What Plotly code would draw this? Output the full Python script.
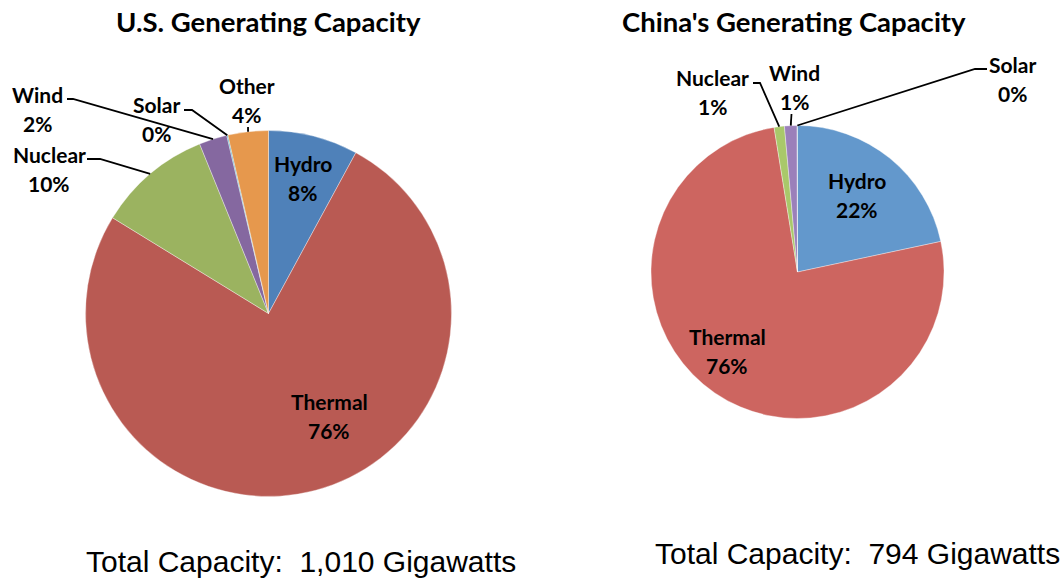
import math
import plotly.graph_objects as go

W, H = 1062, 581

# ---------------- data ----------------
us_categories = ["Hydro", "Thermal", "Nuclear", "Wind", "Solar", "Other"]
us_values = [80, 766, 102, 25, 1, 36]          # GW (approx.)
cn_categories = ["Hydro", "Thermal", "Nuclear", "Wind", "Solar"]
cn_values = [172, 602, 9, 11, 0.3]             # GW (approx.)

us_title = "U.S. Generating Capacity"
cn_title = "China's Generating Capacity"
us_total = "Total Capacity:\u00a0 1,010 Gigawatts"
cn_total = "Total Capacity:\u00a0 794 Gigawatts"

# ---------------- style ----------------
us_colors = ["#4F81B9", "#B95A53", "#9BB360", "#8568A0", "#4BACC6", "#E6984D"]
cn_colors = ["#6398CC", "#CD6560", "#A9C86A", "#9B80BA", "#4BACC6"]

LABEL_FONT = dict(family="Lato, 'Open Sans', sans-serif", size=21, color="black")
TITLE_FONT = dict(family="Lato, 'Open Sans', sans-serif", size=27.5, color="black")
TOTAL_FONT = dict(family="'Liberation Sans', Arial, sans-serif", size=30, color="black")
LINE_GAP = 29  # px between label lines

# pie geometry (pixels)
US_C, US_R = (268.5, 313.5), 183
CN_C, CN_R = (797.5, 272.0), 146.5

# label placement (pixels, centre of text block) and leader stubs
us_label_pos = {
    "Hydro": (302.7, 177.5), "Thermal": (329.3, 416.0), "Nuclear": (49, 169),
    "Wind": (37, 109), "Solar": (156.7, 118.7), "Other": (246.7, 100.5),
}
us_leader = {
    "Nuclear": [(87, 159), (100, 159)],
    "Wind": [(67, 99), (73, 99)],
    "Solar": [(184, 110), (192, 110)],
    "Other": [(248, 127)],
}
cn_label_pos = {
    "Hydro": (857.3, 194.7), "Thermal": (727.3, 351.3), "Nuclear": (712.7, 92),
    "Wind": (794, 87.2), "Solar": (1012.7, 79),
}
cn_leader = {
    "Nuclear": [(753, 83), (760, 83)],
    "Wind": [(791.5, 114)],
    "Solar": [(987, 69), (975, 69)],
}


def px(x):
    return x / W


def py(y):
    return 1 - y / H


def domain(c, r):
    return dict(x=[px(c[0] - r), px(c[0] + r)], y=[py(c[1] + r), py(c[1] - r)])


def edge_points(values, c, r):
    tot = sum(values)
    pts, cum = [], 0.0
    for v in values:
        mid = (cum + v / 2) / tot
        cum += v
        a = 2 * math.pi * mid
        pts.append((c[0] + r * math.sin(a), c[1] - r * math.cos(a)))
    return pts


fig = go.Figure()
for cats, vals, cols, c, r in [
    (us_categories, us_values, us_colors, US_C, US_R),
    (cn_categories, cn_values, cn_colors, CN_C, CN_R),
]:
    fig.add_trace(go.Pie(
        labels=cats, values=vals, sort=False, direction="clockwise", rotation=0,
        marker=dict(colors=cols, line=dict(color="rgba(255,255,255,0.6)", width=0.6)),
        textinfo="none", hoverinfo="label+percent", domain=domain(c, r),
        showlegend=False,
    ))

annotations = []
shapes = []
for cats, vals, c, r, lpos, leaders in [
    (us_categories, us_values, US_C, US_R, us_label_pos, us_leader),
    (cn_categories, cn_values, CN_C, CN_R, cn_label_pos, cn_leader),
]:
    tot = sum(vals)
    edges = edge_points(vals, c, r)
    for cat, v, e in zip(cats, vals, edges):
        x, y = lpos[cat]
        pct = round(100 * v / tot)
        for txt, dy in [(cat, -LINE_GAP / 2), (f"{pct}%", LINE_GAP / 2)]:
            annotations.append(dict(
                x=px(x), y=py(y + dy), xref="paper", yref="paper",
                xanchor="center", yanchor="middle",
                text=f"<b>{txt}</b>", showarrow=False, font=LABEL_FONT,
            ))
        if cat in leaders:
            pts = leaders[cat] + [e]
            path = "M " + " L ".join(f"{px(a)},{py(b)}" for a, b in pts)
            shapes.append(dict(type="path", xref="paper", yref="paper", path=path,
                               line=dict(color="black", width=1.8)))

for text, x, y, font in [
    (f"<b>{us_title}</b>", 268, 21, TITLE_FONT),
    (f"<b>{cn_title}</b>", 794, 21, TITLE_FONT),
    (us_total, 301, 561, TOTAL_FONT),
    (cn_total, 857, 553, TOTAL_FONT),
]:
    annotations.append(dict(x=px(x), y=py(y), xref="paper", yref="paper",
                            xanchor="center", yanchor="middle", text=text,
                            showarrow=False, font=font))

fig.update_layout(
    width=W, height=H, margin=dict(l=0, r=0, t=0, b=0),
    paper_bgcolor="white", plot_bgcolor="white",
    annotations=annotations, shapes=shapes,
)
fig.write_html("out.html")
